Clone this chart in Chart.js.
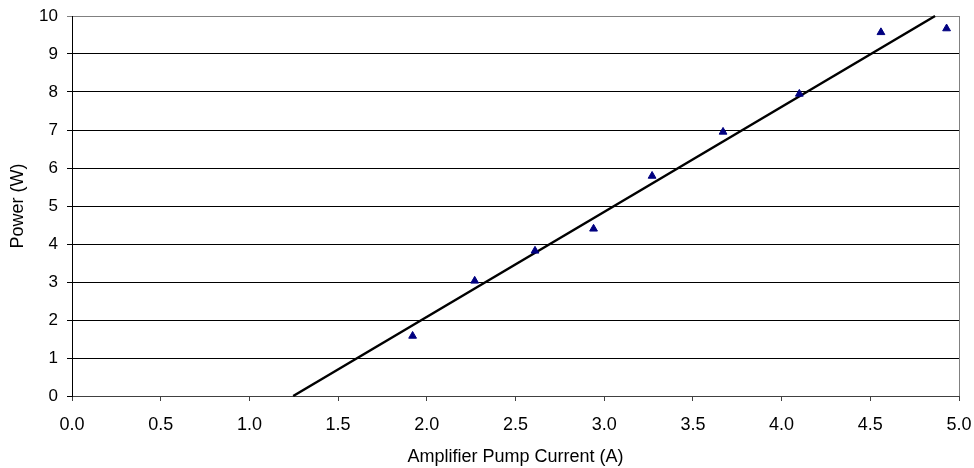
<!DOCTYPE html>
<html>
<head>
<meta charset="utf-8">
<script src="https://cdn.jsdelivr.net/npm/chart.js@4.4.0/dist/chart.umd.min.js"></script>
<style>
  html, body { margin: 0; padding: 0; background: #fff; }
  #wrap { width: 974px; height: 468px; }
</style>
</head>
<body>
<div id="wrap"><canvas id="powerChart"></canvas></div>
<script>
// measured points
const currentA = [1.92, 2.27, 2.61, 2.94, 3.27, 3.67, 4.10, 4.56, 4.93];
const powerW = [1.58, 3.03, 3.82, 4.40, 5.79, 6.95, 7.95, 9.57, 9.67];
// linear trendline ends (where it leaves the plot)
const trendX = [1.247, 4.865];
const trendY = [0, 10];

const xTicks = [0, 0.5, 1, 1.5, 2, 2.5, 3, 3.5, 4, 4.5, 5];
const yTicks = [0, 1, 2, 3, 4, 5, 6, 7, 8, 9, 10];

Chart.defaults.font.family = "'Liberation Sans', Arial, sans-serif";
Chart.defaults.color = "#000";

// gray right edge of the plot frame
const frame = {
  id: "frame",
  afterDraw(chart) {
    const a = chart.chartArea, c = chart.ctx;
    c.save();
    c.strokeStyle = "#808080";
    c.lineWidth = 1;
    c.beginPath();
    c.moveTo(a.right + 0.5, a.top);
    c.lineTo(a.right + 0.5, a.bottom);
    c.stroke();
    c.restore();
  }
};

// keep the plot box fixed; labels may overhang into the layout padding
function noOverhang(s) {
  s.paddingLeft = 0;
  s.paddingRight = 0;
  s.paddingTop = 0;
  s.paddingBottom = 0;
}

new Chart(document.getElementById("powerChart"), {
  type: "scatter",
  data: {
    datasets: [
      {
        label: "Power",
        data: currentA.map((x, i) => ({ x: x, y: powerW[i] })),
        pointStyle: "triangle",
        pointRadius: 4.5,
        pointHoverRadius: 4.5,
        backgroundColor: "#000080",
        borderColor: "#000080",
        borderWidth: 1,
        order: 1
      },
      {
        label: "Linear fit",
        type: "line",
        data: trendX.map((x, i) => ({ x: x, y: trendY[i] })),
        borderColor: "#000",
        borderWidth: 2.5,
        pointRadius: 0,
        fill: false,
        clip: 4,
        order: 2
      }
    ]
  },
  options: {
    responsive: true,
    maintainAspectRatio: false,
    animation: false,
    layout: { padding: { top: 16, right: 15, left: 0, bottom: 0 } },
    plugins: {
      legend: { display: false },
      tooltip: { enabled: false }
    },
    scales: {
      x: {
        type: "linear",
        min: 0,
        max: 5,
        afterBuildTicks: s => { s.ticks = xTicks.map(v => ({ value: v })); },
        afterFit: s => { s.height = 72; noOverhang(s); },
        ticks: {
          font: { size: 18 },
          padding: 13,
          callback: v => Number(v).toFixed(1)
        },
        grid: {
          drawOnChartArea: false,
          drawTicks: true,
          tickLength: 5,
          color: "#404040"
        },
        border: { display: true, color: "#404040", width: 1 },
        title: {
          display: true,
          text: "Amplifier Pump Current (A)",
          font: { size: 18 },
          padding: { top: 4, bottom: 0 }
        }
      },
      y: {
        type: "linear",
        min: 0,
        max: 10,
        afterBuildTicks: s => { s.ticks = yTicks.map(v => ({ value: v })); },
        afterFit: s => { s.width = 72; noOverhang(s); },
        ticks: {
          font: { size: 17 },
          padding: 9
        },
        grid: {
          color: ctx => (ctx.tick && ctx.tick.value === 10 ? "#808080" : "#000"),
          lineWidth: 1,
          drawTicks: true,
          tickLength: 5
        },
        border: { display: true, color: "#000", width: 1 },
        title: {
          display: true,
          text: "Power (W)",
          font: { size: 18 },
          padding: { top: 7, bottom: 2 }
        }
      }
    }
  },
  plugins: [frame]
});
</script>
</body>
</html>
